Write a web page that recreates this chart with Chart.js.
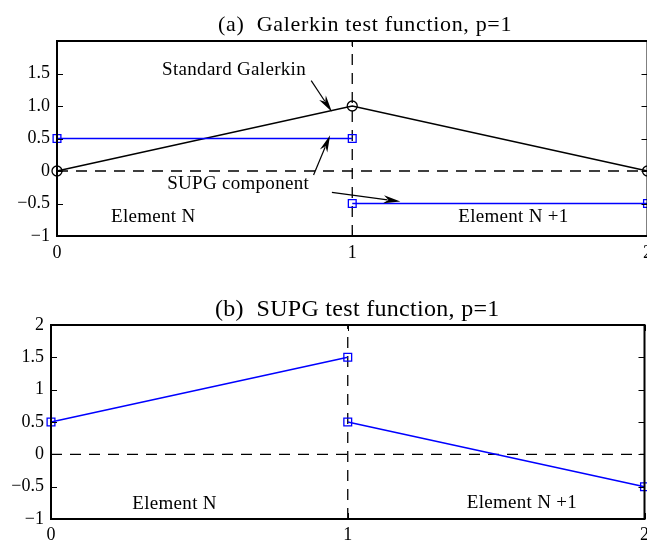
<!DOCTYPE html>
<html>
<head>
<meta charset="utf-8">
<script src="https://cdn.jsdelivr.net/npm/chart.js@4"></script>
<style>
  html, body { margin: 0; padding: 0; background: #fff; overflow: hidden; }
  #wrap { position: relative; width: 647px; height: 542px; overflow: hidden; }
  canvas { position: absolute; left: 0; }
  #chartA { top: 0; }
  #chartB { top: 270px; }
</style>
</head>
<body>
<div id="wrap">
  <canvas id="chartA" width="658" height="270"></canvas>
  <canvas id="chartB" width="654" height="272"></canvas>
</div>
<script>
// node positions shared by both panels
const xNodes = [0, 1, 2];

// (a) Galerkin test function
const galerkinA = [0, 1, 0];
const supgLeftA = [0.5, 0.5];
const supgRightA = [-0.5, -0.5];
const yTicksA = [-1, -0.5, 0, 0.5, 1, 1.5];
const yLabelsA = ["\u22121", "\u22120.5", "0", "0.5", "1.0", "1.5"];

// (b) SUPG test function
const supgLeftB = [0.5, 1.5];
const supgRightB = [0.5, -0.5];
const yTicksB = [-1, -0.5, 0, 0.5, 1, 1.5, 2];
const yLabelsB = ["\u22121", "\u22120.5", "0", "0.5", "1", "1.5", "2"];

const xTicks = [0, 1, 2];
const xLabels = ["0", "1", "2"];

// dashed reference lines (y = 0 and x = 1)
const zeroLineX = [0, 2];
const zeroLineY = [0, 0];
const midLineX = [1, 1];
const midLineY = [-1, 2];

// text labels, in data units: [text, x, y]
const notesA = [
    ["Standard Galerkin", 0.356, 1.55],
    ["SUPG component", 0.373, -0.2],
    ["Element N", 0.183, -0.715],
    ["Element N +1", 1.359, -0.715],
];
const notesB = [
    ["Element N", 0.274, -0.775],
    ["Element N +1", 1.401, -0.75],
];

// arrows, in data units: [fromX, fromY, toX, toY]
const arrowsA = [
    [0.861, 1.39, 0.931, 0.91],
    [0.869, -0.06, 0.925, 0.55],
    [0.931, -0.33, 1.163, -0.47],
];

const FONT = '"Liberation Serif", "Times New Roman", Times, serif';
const BLUE = "#0000ff";

function pts(xs, ys) {
    return xs.map((x, i) => ({ x: x, y: ys[i] }));
}

function line(ctx, x0, y0, x1, y1) {
    ctx.beginPath();
    ctx.moveTo(x0, y0);
    ctx.lineTo(x1, y1);
    ctx.stroke();
}

function drawArrow(ctx, x0, y0, x1, y1) {
    const ang = Math.atan2(y1 - y0, x1 - x0);
    const len = 17;
    const half = 4;
    const c = Math.cos(ang);
    const s = Math.sin(ang);
    const bx = x1 - len * c;
    const by = y1 - len * s;
    line(ctx, x0, y0, bx + 4 * c, by + 4 * s);
    ctx.beginPath();
    ctx.moveTo(x1, y1);
    ctx.lineTo(bx - half * s, by + half * c);
    ctx.lineTo(bx + 5 * c, by + 5 * s);
    ctx.lineTo(bx + half * s, by - half * c);
    ctx.closePath();
    ctx.fill();
}

const matlabFrame = {
    id: "matlabFrame",
    afterDatasetsDraw(chart, args, opts) {
        const ctx = chart.ctx;
        const a = chart.chartArea;
        const x = chart.scales.x;
        const y = chart.scales.y;
        ctx.save();
        ctx.strokeStyle = "#000";
        ctx.fillStyle = "#000";

        // inner ticks on all four sides
        ctx.lineWidth = 1;
        y.ticks.forEach((t) => {
            const py = Math.round(y.getPixelForValue(t.value)) + 0.5;
            line(ctx, a.left, py, a.left + 6, py);
            line(ctx, a.right, py, a.right - 6, py);
        });
        x.ticks.forEach((t) => {
            const px = Math.round(x.getPixelForValue(t.value)) + 0.5;
            line(ctx, px, a.bottom, px, a.bottom - 6);
            line(ctx, px, a.top, px, a.top + 6);
        });

        // box
        ctx.lineWidth = 2;
        ctx.strokeRect(a.left, a.top, a.right - a.left, a.bottom - a.top);

        // title
        ctx.font = opts.titleSize + "px " + FONT;
        ctx.letterSpacing = opts.titleSpacing + "px";
        ctx.textAlign = "left";
        ctx.textBaseline = "alphabetic";
        ctx.fillText(opts.title, opts.titleX, opts.titleY);

        // text notes
        ctx.font = "19px " + FONT;
        ctx.letterSpacing = "0.3px";
        ctx.textBaseline = "middle";
        (opts.notes || []).forEach((n) => {
            ctx.fillText(n[0], x.getPixelForValue(n[1]), y.getPixelForValue(n[2]));
        });
        ctx.letterSpacing = "0px";

        // arrows
        ctx.lineWidth = 1.2;
        (opts.arrows || []).forEach((r) => {
            drawArrow(
                ctx,
                x.getPixelForValue(r[0]), y.getPixelForValue(r[1]),
                x.getPixelForValue(r[2]), y.getPixelForValue(r[3])
            );
        });
        ctx.restore();
    },
};

function dashedSet(xs, ys) {
    return {
        data: pts(xs, ys),
        borderColor: "#000",
        borderWidth: 1.3,
        borderDash: [11, 8],
        pointRadius: 0,
        order: 10,
    };
}

function blueSet(xs, ys) {
    return {
        data: pts(xs, ys),
        borderColor: BLUE,
        borderWidth: 1.5,
        pointStyle: "rect",
        pointRadius: 5.5,
        pointBorderColor: BLUE,
        pointBorderWidth: 1.3,
        pointBackgroundColor: "rgba(0,0,0,0)",
        clip: false,
        order: 1,
    };
}

function makeOptions(cfg) {
    return {
        responsive: false,
        animation: false,
        events: [],
        layout: { padding: cfg.padding },
        plugins: {
            legend: { display: false },
            title: { display: false },
            tooltip: { enabled: false },
            matlabFrame: {
                title: cfg.title,
                titleX: cfg.titleX,
                titleY: cfg.titleY,
                titleSize: cfg.titleSize,
                titleSpacing: cfg.titleSpacing,
                notes: cfg.notes,
                arrows: cfg.arrows,
            },
        },
        scales: {
            x: {
                type: "linear",
                min: 0,
                max: 2,
                grid: { display: false, drawTicks: false },
                border: { display: false },
                afterBuildTicks: (s) => {
                    s.ticks = xTicks.map((v) => ({ value: v }));
                },
                afterFit: (s) => {
                    s.height = cfg.xHeight;
                },
                ticks: {
                    color: "#000",
                    font: { family: FONT, size: 18 },
                    padding: cfg.xPad,
                    maxRotation: 0,
                    callback: (v, i) => xLabels[i],
                },
            },
            y: {
                type: "linear",
                min: -1,
                max: 2,
                grid: { display: false, drawTicks: false },
                border: { display: false },
                afterBuildTicks: (s) => {
                    s.ticks = cfg.yTicks.map((v) => ({ value: v }));
                },
                afterFit: (s) => {
                    s.width = cfg.yWidth;
                },
                ticks: {
                    color: "#000",
                    font: { family: FONT, size: 18 },
                    padding: 7,
                    callback: (v, i) => cfg.yLabels[i],
                },
            },
        },
    };
}

new Chart(document.getElementById("chartA"), {
    type: "line",
    data: {
        datasets: [
            {
                data: pts(xNodes, galerkinA),
                borderColor: "#000",
                borderWidth: 1.5,
                pointStyle: "circle",
                pointRadius: 5,
                pointBorderColor: "#000",
                pointBorderWidth: 1.3,
                pointBackgroundColor: "rgba(0,0,0,0)",
                clip: false,
                order: 2,
            },
            blueSet([xNodes[0], xNodes[1]], supgLeftA),
            blueSet([xNodes[1], xNodes[2]], supgRightA),
            dashedSet(zeroLineX, zeroLineY),
            dashedSet(midLineX, midLineY),
        ],
    },
    options: makeOptions({
        padding: { left: 0, top: 41, right: 0, bottom: 0 },
        yWidth: 57,
        xHeight: 34,
        xPad: 6,
        yTicks: yTicksA,
        yLabels: yLabelsA,
        title: "(a)  Galerkin test function, p=1",
        titleX: 218,
        titleY: 31,
        titleSize: 22,
        titleSpacing: 0.67,
        notes: notesA,
        arrows: arrowsA,
    }),
    plugins: [matlabFrame],
});

new Chart(document.getElementById("chartB"), {
    type: "line",
    data: {
        datasets: [
            blueSet([xNodes[0], xNodes[1]], supgLeftB),
            blueSet([xNodes[1], xNodes[2]], supgRightB),
            dashedSet(zeroLineX, zeroLineY),
            dashedSet(midLineX, midLineY),
        ],
    },
    options: makeOptions({
        padding: { left: 0, top: 55, right: 0, bottom: 0 },
        yWidth: 51,
        xHeight: 23,
        xPad: 5,
        yTicks: yTicksB,
        yLabels: yLabelsB,
        title: "(b)  SUPG test function, p=1",
        titleX: 215,
        titleY: 46,
        titleSize: 24,
        titleSpacing: 0.3,
        notes: notesB,
        arrows: [],
    }),
    plugins: [matlabFrame],
});
</script>
</body>
</html>
